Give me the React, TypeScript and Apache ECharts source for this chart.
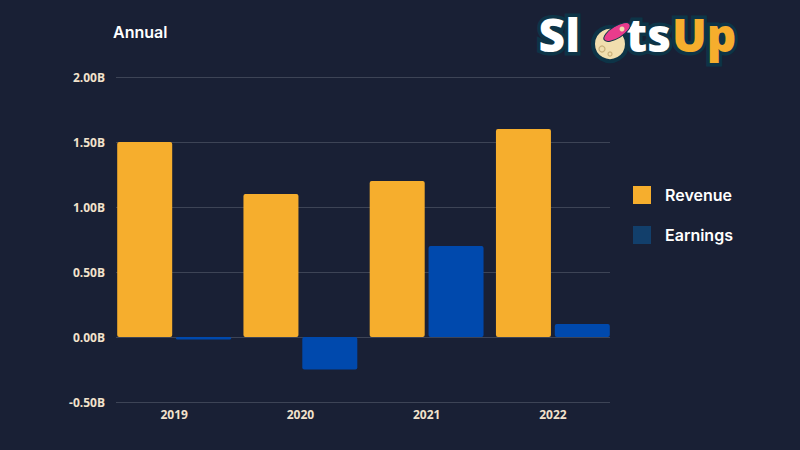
import React, { useEffect, useRef } from "react";
import * as echarts from "echarts";

const categories = ["2019", "2020", "2021", "2022"];
const revenue = [1.5e9, 1.1e9, 1.2e9, 1.6e9];
const earnings = [-0.02e9, -0.25e9, 0.7e9, 0.1e9];
const yTicks = { min: -0.5e9, max: 2e9, interval: 0.5e9 };
const seriesNames = ["Revenue", "Earnings"];

const BG = "#192035";
const CREAM = "#f2e2cc";
const GRID = "#3d4456";
const YELLOW = "#f6ae2d";
const BLUE = "#0049ad";
const OUTLINE = "#0d3447";
const LOGO_FONT = "800 46px 'Open Sans'";

export default function App() {
  const ref = useRef<HTMLDivElement>(null);
  useEffect(() => {
    if (!ref.current) return;
    const chart = echarts.init(ref.current, null, { renderer: "svg" });
    const fmt = (v: number) => (v / 1e9).toFixed(2) + "B";
    const logoText = (text: string, x: number, align: string, fill: string) => ({
      type: "text",
      x,
      y: 34,
      z: 10,
      style: {
        text,
        align,
        verticalAlign: "middle",
        fill,
        font: LOGO_FONT,
        stroke: OUTLINE,
        lineWidth: 7,
        strokeFirst: true,
      } as any,
    });
    const option: any = {
      animation: false,
      backgroundColor: BG,
      title: {
        text: "Annual",
        left: 108,
        top: 19,
        textStyle: { color: "#ffffff", fontSize: 16, fontWeight: 600, fontFamily: "Inter" },
      },
      legend: {
        orient: "vertical",
        left: 628,
        top: 181,
        itemWidth: 18,
        itemHeight: 18,
        itemGap: 22,
        icon: "rect",
        textStyle: {
          color: "#ffffff",
          fontSize: 16,
          fontWeight: 600,
          fontFamily: "Inter",
          padding: [0, 0, 0, 9],
        },
        data: [
          { name: seriesNames[0], itemStyle: { color: YELLOW } },
          { name: seriesNames[1], itemStyle: { color: "#123f6b" } },
        ],
      },
      grid: [
        { left: 111, right: 184, top: 77, bottom: 48 },
        { left: 116, right: 190, top: 77, bottom: 48 },
      ],
      xAxis: [
        {
          type: "category",
          gridIndex: 0,
          data: categories,
          axisLine: { show: false },
          axisTick: { show: false },
          axisLabel: {
            color: CREAM,
            fontSize: 12,
            fontWeight: "bold",
            fontFamily: "Open Sans",
            margin: 6,
          },
        },
        {
          type: "category",
          gridIndex: 1,
          data: categories,
          show: false,
        },
      ],
      yAxis: [
        {
          type: "value",
          gridIndex: 0,
          min: yTicks.min,
          max: yTicks.max,
          interval: yTicks.interval,
          splitLine: { show: false },
          axisLabel: {
            formatter: fmt,
            color: CREAM,
            fontSize: 12,
            fontWeight: "bold",
            fontFamily: "Open Sans",
            margin: 6,
          },
        },
        {
          type: "value",
          gridIndex: 1,
          min: yTicks.min,
          max: yTicks.max,
          interval: yTicks.interval,
          axisLabel: { show: false },
          axisLine: { show: false },
          axisTick: { show: false },
          splitLine: { show: true, lineStyle: { color: GRID, width: 1 } },
        },
      ],
      series: [
        {
          name: seriesNames[0],
          type: "bar",
          xAxisIndex: 0,
          yAxisIndex: 0,
          data: revenue,
          barWidth: 55,
          barGap: "7%",
          itemStyle: { color: YELLOW, borderRadius: 2 },
        },
        {
          name: seriesNames[1],
          type: "bar",
          xAxisIndex: 0,
          yAxisIndex: 0,
          data: earnings,
          barWidth: 55,
          barGap: "7%",
          itemStyle: { color: BLUE, borderRadius: 2 },
        },
        {
          name: "_grid",
          type: "bar",
          xAxisIndex: 1,
          yAxisIndex: 1,
          data: [],
        },
      ],
      graphic: [
        logoText("Sl", 580, "right", "#ffffff"),
        {
          type: "circle",
          z: 10,
          shape: { cx: 610, cy: 44, r: 17 },
          style: { fill: "#f1deae", stroke: OUTLINE, lineWidth: 4 },
        },
        {
          type: "circle",
          z: 11,
          shape: { cx: 602, cy: 49, r: 3 },
          style: { fill: "none", stroke: "#c9b07a", lineWidth: 1.2 },
        },
        {
          type: "circle",
          z: 11,
          shape: { cx: 610, cy: 54, r: 2 },
          style: { fill: "none", stroke: "#c9b07a", lineWidth: 1.2 },
        },
        {
          type: "ellipse",
          z: 12,
          x: 617,
          y: 32,
          rotation: 0.55,
          shape: { cx: 0, cy: 0, rx: 15, ry: 6 },
          style: { fill: "#e93c8c", stroke: OUTLINE, lineWidth: 1 },
        },
        {
          type: "circle",
          z: 13,
          shape: { cx: 622, cy: 29, r: 2.5 },
          style: { fill: "#f1deae" },
        },
        logoText("ts", 626, "left", "#ffffff"),
        logoText("Up", 672, "left", YELLOW),
      ],
    };
    chart.setOption(option);
    return () => chart.dispose();
  }, []);
  return (
    <div
      ref={ref}
      style={{ position: "fixed", left: 0, top: 0, width: 800, height: 450 }}
    />
  );
}
